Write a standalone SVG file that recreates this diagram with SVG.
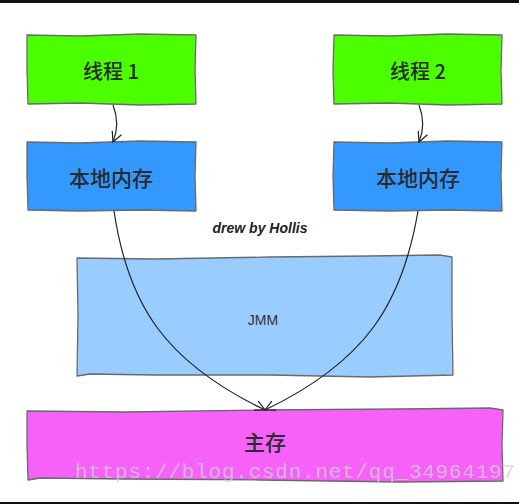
<svg xmlns="http://www.w3.org/2000/svg" width="519" height="504" viewBox="0 0 519 504">
<defs>
<style>
.box{stroke:#6a6a6a;stroke-width:1.3;stroke-linejoin:round}
.lbl{font-family:"Noto Sans CJK SC","Noto Sans",sans-serif;font-weight:500;fill:#2a2a2a;text-anchor:middle;dominant-baseline:central}
.conn{fill:none;stroke:#222;stroke-width:1.2}
</style>
<marker id="ah" viewBox="0 0 12 12" refX="11" refY="6" markerWidth="12" markerHeight="12" markerUnits="userSpaceOnUse" orient="auto">
<path d="M1 1 L11 6 L1 11" fill="none" stroke="#222" stroke-width="1.2"/>
</marker>
</defs>
<rect width="519" height="504" fill="#fff"/>
<rect x="0" y="0" width="519" height="3" fill="#111"/>
<rect x="0" y="502" width="519" height="2" fill="#111"/>
<g id="thread1">
<path class="box" fill="#4cff00" d="M27 35 L80 36 L140 34 L196 35 L195 70 L196 104 L140 105 L80 103 L28 104 L27 70 Z"/>
<text class="lbl" x="111" y="70" font-size="20">线程 1</text>
</g>
<g id="thread2">
<path class="box" fill="#4cff00" d="M334 35 L390 36 L447 34 L502 35 L501 70 L502 104 L447 105 L390 103 L334 104 L333 70 Z"/>
<text class="lbl" x="418" y="70" font-size="20">线程 2</text>
</g>
<g id="local1">
<path class="box" fill="#3399ff" d="M27 142 L80 143 L140 141 L196 142 L195 176 L196 211 L140 210 L80 211 L28 210 L27 176 Z"/>
<text class="lbl" x="111" y="177" font-size="21">本地内存</text>
</g>
<g id="local2">
<path class="box" fill="#3399ff" d="M334 142 L390 143 L447 141 L502 142 L501 176 L502 211 L447 210 L390 211 L334 210 L333 176 Z"/>
<text class="lbl" x="418" y="177" font-size="21">本地内存</text>
</g>
<g id="jmm">
<path class="box" fill="#99ccff" d="M77 258 L155 259 L270 257 L370 256 L440 255 L452 257 L452 316 L453 375 L370 377 L270 375 L155 375 L90 374 L77 376 L78 316 Z"/>
<text x="263" y="320" font-family="Liberation Sans, sans-serif" font-size="14" fill="#333" text-anchor="middle" dominant-baseline="central">JMM</text>
</g>
<g id="main">
<path class="box" fill="#f662f9" d="M27 411 L125 412 L260 410 L400 409 L490 408 L503 410 L502 445 L503 481 L400 482 L260 480 L125 479 L40 478 L28 480 L27 445 Z"/>
<text class="lbl" x="265" y="441" font-size="21">主存</text>
</g>
<g id="caption">
<text x="260" y="228" font-family="Liberation Sans, sans-serif" font-style="italic" font-weight="bold" font-size="14" fill="#222" text-anchor="middle" dominant-baseline="central">drew by Hollis</text>
</g>
<g id="connectors">
<path class="conn" marker-end="url(#ah)" d="M113 105 C118 118 118 130 113 142"/>
<path class="conn" marker-end="url(#ah)" d="M419 105 C424 118 424 130 419 142"/>
<path class="conn" marker-end="url(#ah)" d="M114 211 C128 305 165 362 265 410"/>
<path class="conn" marker-end="url(#ah)" d="M418 211 C402 305 365 362 265 410"/>
</g>
<text x="295" y="472" font-family="Liberation Mono, monospace" font-size="21" fill="#cfcfcf" fill-opacity="0.75" text-anchor="middle" dominant-baseline="central" textLength="440">https://blog.csdn.net/qq_34964197</text>
</svg>
